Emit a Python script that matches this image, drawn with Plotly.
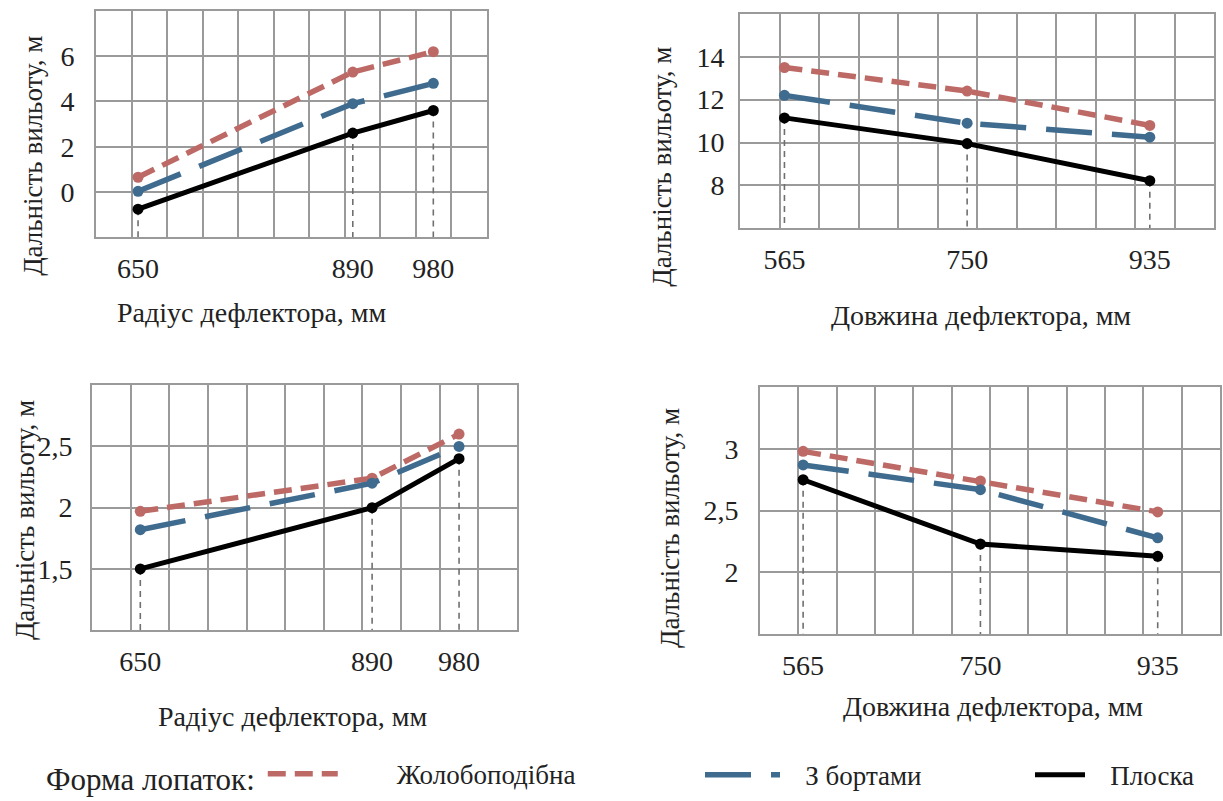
import plotly.graph_objects as go

# ---------------- data ----------------
series_names = ["Жолобоподібна", "З бортами", "Плоска"]

x_radius = [650, 890, 980]
x_length = [565, 750, 935]

# top-left: range vs deflector radius
p1_red = [0.65, 5.3, 6.2]
p1_blue = [0.03, 3.9, 4.8]
p1_black = [-0.76, 2.6, 3.6]

# top-right: range vs deflector length
p2_red = [13.5, 12.4, 10.8]
p2_blue = [12.2, 10.9, 10.25]
p2_black = [11.15, 9.95, 8.22]

# bottom-left: range vs deflector radius
p3_red = [1.97, 2.24, 2.6]
p3_blue = [1.82, 2.2, 2.5]
p3_black = [1.5, 2.0, 2.4]

# bottom-right: range vs deflector length
p4_red = [2.98, 2.74, 2.49]
p4_blue = [2.87, 2.67, 2.28]
p4_black = [2.75, 2.23, 2.13]

p1_yticks = [0, 2, 4, 6]
p2_yticks = [8, 10, 12, 14]
p3_yticks = [1.5, 2, 2.5]
p3_yticklabels = ["1,5", "2", "2,5"]
p4_yticks = [2, 2.5, 3]
p4_yticklabels = ["2", "2,5", "3"]

x_title_radius = "Радіус дефлектора, мм"
x_title_length = "Довжина дефлектора, мм"
y_title = "Дальність вильоту, м"
legend_title = "Форма лопаток:"

# ---------------- styling ----------------
W, H = 1223, 801
FONT = "'Liberation Serif', 'Times New Roman', Times, 'DejaVu Serif', serif"
TXT = "#222222"
GRID = "#9a9a9a"
RED = "#bd6a66"
BLUE = "#3f6b8f"
BLACK = "#000000"
styles = [
    dict(color=RED, width=5.5, dash="18px,9px"),
    dict(color=BLUE, width=5.5, dash="46px,20px"),
    dict(color=BLACK, width=5, dash="solid"),
]
legend_keys = ["legend", "legend2", "legend3"]
legend_pad = ["\u00a0" * 8, "\u00a0" * 3, "\u00a0" * 3]

# panel geometry in pixels: (left, top, right, bottom), x range, n columns, y range
panels = [
    dict(box=(96, 11, 487, 239), xr=(603, 1040), ncol=11, yr=(-2, 8), ysoff=14,
         x=x_radius, ys=[p1_red, p1_blue, p1_black], yt=p1_yticks, ytl=[str(v) for v in p1_yticks]),
    dict(box=(740, 14, 1214, 230), xr=(520, 1000), ncol=12, yr=(6, 16), ysoff=8,
         x=x_length, ys=[p2_red, p2_blue, p2_black], yt=p2_yticks, ytl=[str(v) for v in p2_yticks]),
    dict(box=(92, 388, 517, 635), xr=(600, 1040), ncol=11, yr=(1, 3), ysoff=12,
         x=x_radius, ys=[p3_red, p3_blue, p3_black], yt=p3_yticks, ytl=p3_yticklabels),
    dict(box=(760, 390, 1220, 639), xr=(520, 1000), ncol=12, yr=(1.5, 3.5), ysoff=14,
         x=x_length, ys=[p4_red, p4_blue, p4_black], yt=p4_yticks, ytl=p4_yticklabels),
]

fig = go.Figure()
layout = dict(
    width=W, height=H, margin=dict(l=0, r=0, t=0, b=0),
    paper_bgcolor="white", plot_bgcolor="white",
    font=dict(family=FONT, color=TXT, size=26),
    showlegend=True,
)

for i, p in enumerate(panels):
    k = "" if i == 0 else str(i + 1)
    xa, ya = "x" + k, "y" + k
    l, t, r, b = p["box"]
    x0, x1 = p["xr"]
    step = (x1 - x0) / p["ncol"]
    minor_vals = [x0 + step * j for j in range(1, p["ncol"])]
    layout["xaxis" + k] = dict(
        domain=[l / W, r / W], range=[x0, x1], anchor=ya,
        tickmode="array", tickvals=p["x"], ticktext=[str(v) for v in p["x"]],
        showgrid=False, zeroline=False, ticks="", ticklabelstandoff=5,
        showline=True, mirror=True, linecolor=GRID, linewidth=2,
        tickfont=dict(size=28, family=FONT, color=TXT),
        minor=dict(tickmode="array", tickvals=minor_vals, showgrid=True,
                   gridcolor=GRID, gridwidth=2, ticks=""),
        fixedrange=True,
    )
    layout["yaxis" + k] = dict(
        domain=[1 - b / H, 1 - t / H], range=list(p["yr"]), anchor=xa,
        tickmode="array", tickvals=p["yt"], ticktext=p["ytl"],
        showgrid=True, gridcolor=GRID, gridwidth=2, zeroline=False,
        ticks="", ticklabelstandoff=p["ysoff"],
        showline=True, mirror=True, linecolor=GRID, linewidth=2,
        tickfont=dict(size=28, family=FONT, color=TXT),
        fixedrange=True,
    )
    # dashed drop lines from the lowest point down to the axis
    ybot = p["yr"][0]
    for j, xv in enumerate(p["x"]):
        lowest = min(s[j] for s in p["ys"])
        fig.add_trace(go.Scatter(
            x=[xv, xv], y=[lowest, ybot], mode="lines", xaxis=xa, yaxis=ya,
            line=dict(color="#6f6f6f", width=1.6, dash="6px,5px"),
            showlegend=False, hoverinfo="skip"))
    for s_idx, (yvals, st) in enumerate(zip(p["ys"], styles)):
        fig.add_trace(go.Scatter(
            x=p["x"], y=yvals, mode="lines", xaxis=xa, yaxis=ya,
            name=legend_pad[s_idx] + series_names[s_idx],
            line=st, showlegend=(i == 0), legend=legend_keys[s_idx],
        ))
        fig.add_trace(go.Scatter(
            x=p["x"], y=yvals, mode="markers", xaxis=xa, yaxis=ya,
            name=series_names[s_idx], marker=dict(size=11, color=st["color"]),
            showlegend=False,
        ))

# legends (one per entry, placed individually)
leg_common = dict(orientation="h", yanchor="middle", xanchor="left",
                  bgcolor="rgba(0,0,0,0)", font=dict(size=27, family=FONT, color=TXT),
                  tracegroupgap=0)
layout["legend"] = dict(leg_common, x=44 / W, y=1 - 781 / H, itemwidth=70,
                        title=dict(text=legend_title, side="left",
                                   font=dict(size=31, family=FONT, color=TXT)))
layout["legend2"] = dict(leg_common, x=700 / W, y=1 - 781 / H, itemwidth=75)
layout["legend3"] = dict(leg_common, x=1030 / W, y=1 - 781 / H, itemwidth=50)

# axis titles as annotations
ann = []
xt_pos = [(252, 315), (981, 318), (293, 722), (993, 712)]
xt_txt = [x_title_radius, x_title_length, x_title_radius, x_title_length]
for (cx, cy), tx in zip(xt_pos, xt_txt):
    ann.append(dict(x=cx / W, y=1 - cy / H, xref="paper", yref="paper", text=tx,
                    showarrow=False, xanchor="center", yanchor="middle",
                    font=dict(size=28, family=FONT, color=TXT)))
yt_pos = [(33, 157), (662, 168), (25, 524), (670, 532)]
for cx, cy in yt_pos:
    ann.append(dict(x=cx / W, y=1 - cy / H, xref="paper", yref="paper", text=y_title,
                    showarrow=False, textangle=-90, xanchor="center", yanchor="middle",
                    font=dict(size=27, family=FONT, color=TXT)))
layout["annotations"] = ann

fig.update_layout(**layout)
fig.write_html("out.html")
